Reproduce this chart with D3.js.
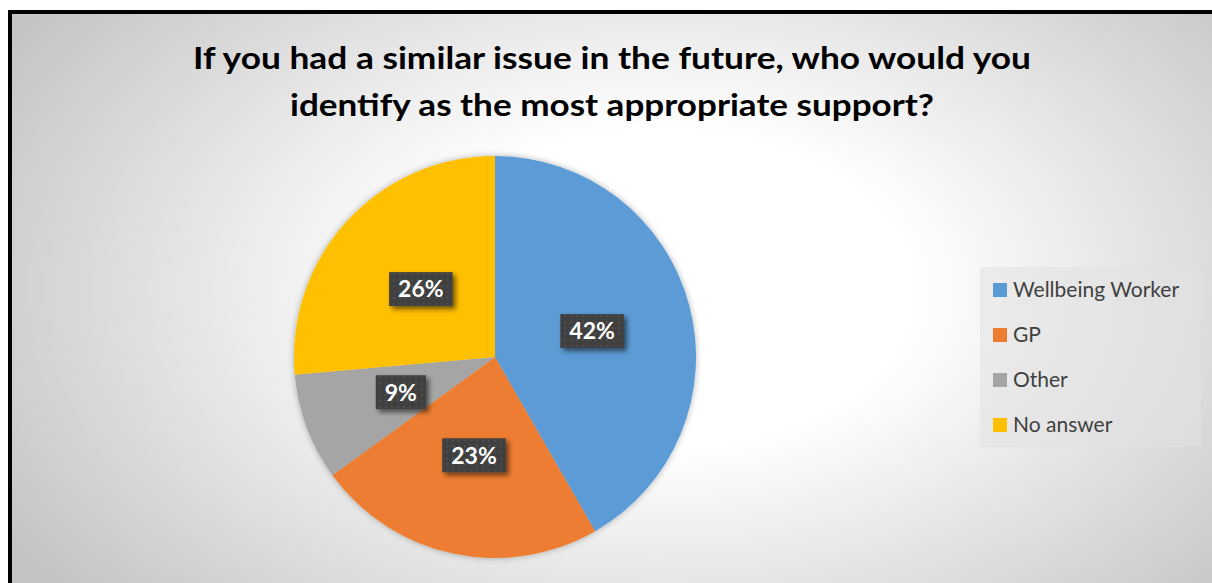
<!DOCTYPE html>
<html lang="en">
<head>
    <meta charset="UTF-8">
    <title>Support pie</title>
    <script src="https://d3js.org/d3.v7.min.js"></script>
    <style>
        body { margin: 0; background: #fff; }
        text { font-family: Lato, "Open Sans", sans-serif; }
    </style>
</head>
<body>
<script>

    var width = 1212,
        height = 583;

    // data
    var categories = ["Wellbeing Worker", "GP", "Other", "No answer"];
    var values = [41.7, 23.3, 8.6, 26.4];
    var colors = ["#5B9BD5", "#ED7D31", "#A5A5A5", "#FFC000"];
    var titleLines = ["If you had a similar issue in the future, who would you",
                      "identify as the most appropriate support?"];

    var svg = d3.select("body").append("svg")
        .attr("width", width)
        .attr("height", height);

    var defs = svg.append("defs");

    var bg = defs.append("radialGradient")
        .attr("id", "bg")
        .attr("gradientUnits", "userSpaceOnUse")
        .attr("cx", 0).attr("cy", 0).attr("r", 1)
        .attr("gradientTransform", "translate(660,290) scale(760,480)");
    bg.append("stop").attr("offset", 0).attr("stop-color", "#ffffff");
    bg.append("stop").attr("offset", 0.33).attr("stop-color", "#ffffff");
    bg.append("stop").attr("offset", 1).attr("stop-color", "#c4c4c4");

    var dots = defs.append("pattern")
        .attr("id", "dots")
        .attr("patternUnits", "userSpaceOnUse")
        .attr("width", 6).attr("height", 6);
    dots.append("rect").attr("width", 6).attr("height", 6).attr("fill", "#404040");
    dots.append("rect").attr("x", 2).attr("y", 2).attr("width", 2).attr("height", 2).attr("fill", "#505050");

    var shadow = defs.append("filter").attr("id", "shadow")
        .attr("x", "-30%").attr("y", "-30%").attr("width", "160%").attr("height", "160%");
    shadow.append("feDropShadow")
        .attr("dx", 3).attr("dy", 3).attr("stdDeviation", 2.5)
        .attr("flood-color", "#000").attr("flood-opacity", 0.55);

    var pieShadow = defs.append("filter").attr("id", "pieShadow")
        .attr("x", "-10%").attr("y", "-10%").attr("width", "120%").attr("height", "120%");
    pieShadow.append("feDropShadow")
        .attr("dx", 0).attr("dy", 0).attr("stdDeviation", 3)
        .attr("flood-color", "#000").attr("flood-opacity", 0.3);

    // chart area
    svg.append("rect")
        .attr("x", 10).attr("y", 12)
        .attr("width", 1230).attr("height", 600)
        .attr("fill", "url(#bg)")
        .attr("stroke", "#000")
        .attr("stroke-width", 4);

    // title
    svg.append("g").selectAll("text")
        .data(titleLines)
        .enter().append("text")
        .attr("x", 612)
        .attr("y", function(d, i) { return 69 + i * 47; })
        .attr("text-anchor", "middle")
        .attr("font-size", 31)
        .attr("font-weight", "bold")
        .attr("fill", "#000")
        .attr("textLength", function(d, i) { return i === 0 ? 838 : 644; })
        .attr("lengthAdjust", "spacingAndGlyphs")
        .text(function(d) { return d; });

    // pie
    var cx = 495, cy = 357, radius = 201;

    var pie = d3.pie().sort(null).value(function(d) { return d; });
    var arcs = pie(values);
    var arc = d3.arc().innerRadius(0).outerRadius(radius);

    var pieG = svg.append("g")
        .attr("transform", "translate(" + cx + "," + cy + ")");

    pieG.append("g")
        .attr("filter", "url(#pieShadow)")
        .selectAll("path")
        .data(arcs)
        .enter().append("path")
        .attr("d", arc)
        .attr("fill", function(d, i) { return colors[i]; });

    var total = d3.sum(values);

    var labels = pieG.selectAll(".lbl")
        .data(arcs)
        .enter().append("g")
        .attr("class", "lbl")
        .attr("transform", function(d) { return "translate(" + arc.centroid(d) + ")"; });

    labels.append("rect").attr("class", "box");

    labels.append("text")
        .attr("text-anchor", "middle")
        .attr("dy", "0.36em")
        .attr("font-size", 23)
        .attr("font-weight", "bold")
        .attr("fill", "#fff")
        .text(function(d) { return Math.round(d.value / total * 100) + "%"; });

    labels.each(function() {
        var g = d3.select(this);
        var w = g.select("text").node().getComputedTextLength() + 18;
        var h = 34;
        g.select("rect")
            .attr("x", -w / 2).attr("y", -h / 2)
            .attr("width", w).attr("height", h)
            .attr("fill", "url(#dots)")
            .attr("filter", "url(#shadow)");
    });

    // legend
    var legend = svg.append("g");

    legend.append("rect")
        .attr("x", 980).attr("y", 267)
        .attr("width", 221).attr("height", 180)
        .attr("fill", "#e2e2e2")
        .attr("fill-opacity", 0.55);

    var item = legend.selectAll(".item")
        .data(categories)
        .enter().append("g")
        .attr("class", "item")
        .attr("transform", function(d, i) { return "translate(993," + (290 + i * 45) + ")"; });

    item.append("rect")
        .attr("x", 0).attr("y", -7)
        .attr("width", 14).attr("height", 14)
        .attr("fill", function(d, i) { return colors[i]; });

    item.append("text")
        .attr("x", 20)
        .attr("dy", "0.35em")
        .attr("font-size", 21)
        .attr("fill", "#404040")
        .text(function(d) { return d; });

</script>
</body>
</html>
